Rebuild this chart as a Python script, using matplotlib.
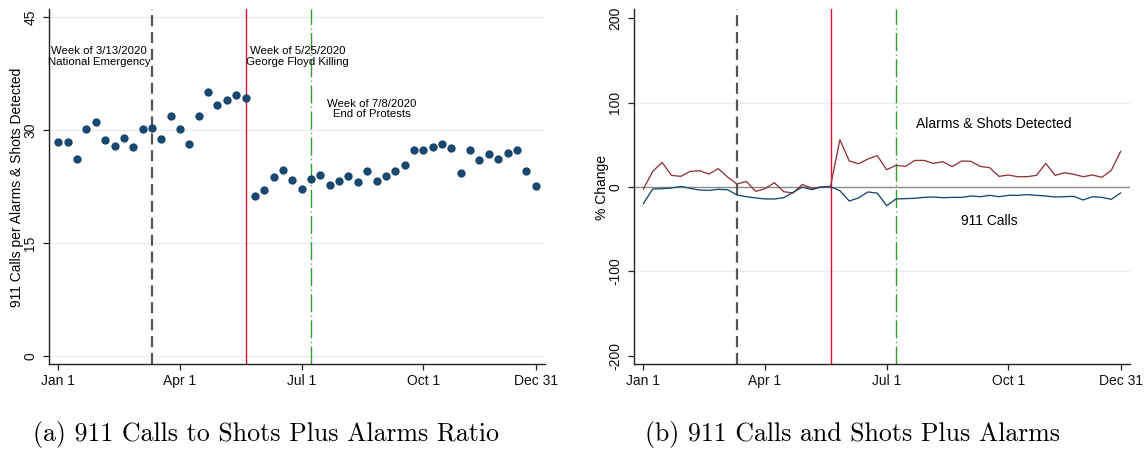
import numpy as np
import matplotlib
matplotlib.use("Agg")
import matplotlib.pyplot as plt

# ---------------- data ----------------
weeks = np.arange(1, 53)
tick_weeks = [1, 14, 27, 40, 52]
tick_labels = ["Jan 1", "Apr 1", "Jul 1", "Oct 1", "Dec 31"]

ratio = [28.45, 28.45, 26.2, 30.2, 31.1, 28.7, 27.9, 29.0, 27.8, 30.1,
         30.3, 28.8, 31.9, 30.1, 28.2, 31.9, 35.0, 33.3, 34.0, 34.6,
         34.3, 21.2, 22.0, 23.7, 24.7, 23.4, 22.2, 23.5, 24.0, 22.7,
         23.2, 23.9, 23.1, 24.6, 23.2, 23.9, 24.6, 25.4, 27.3, 27.4,
         27.7, 28.1, 27.6, 24.3, 27.3, 26.0, 26.8, 26.1, 26.9, 27.3,
         24.6, 22.6]

alarms = [-2.4, 18.5, 29.2, 13.8, 12.6, 18.5, 19.3, 15.4, 21.7, 11.8,
          3.5, 6.6, -5.2, -2.0, 5.1, -5.6, -7.1, 3.1, -1.7, 0.0,
          0.7, 56.0, 30.8, 27.6, 33.2, 37.1, 20.5, 25.6, 24.4, 31.5,
          31.5, 28.0, 30.0, 24.1, 30.8, 30.4, 24.4, 22.9, 12.6, 14.2,
          12.2, 12.2, 13.8, 28.0, 13.8, 16.9, 15.0, 12.2, 14.2, 11.5,
          19.7, 42.2]

calls = [-19.8, -2.4, -2.0, -1.2, 0.7, -1.6, -3.6, -4.0, -2.8, -3.2,
         -9.5, -11.5, -13.0, -14.2, -14.2, -12.7, -6.3, 0.0, -3.2, 0.0,
         0.3, -4.4, -16.6, -13.0, -5.9, -7.3, -22.2, -14.2, -13.8, -13.4,
         -12.3, -11.9, -12.7, -12.3, -12.3, -10.7, -11.5, -9.9, -11.5, -9.9,
         -9.9, -9.1, -9.9, -10.7, -11.9, -11.5, -11.1, -15.4, -11.5, -12.3,
         -14.6, -7.1]

event_weeks = [11, 21, 28]
left_yticks = [0, 15, 30, 45]
right_yticks = [-200, -100, 0, 100, 200]

# ---------------- style ----------------
plt.rcParams['font.family'] = ['Liberation Sans', 'DejaVu Sans']
NAVY = '#1a476f'
MAROON = '#90353b'
GRID = '#e6eef0'
AXC = '#222222'

fig = plt.figure(figsize=(11.46, 4.53), dpi=100)
W, H = 1146, 453

def make_ax(x0, x1, ytop, ybot):
    return fig.add_axes([x0 / W, 1 - ybot / H, (x1 - x0) / W, (ybot - ytop) / H])

axL = make_ax(49, 545, 9, 364.3)
axR = make_ax(634, 1130, 9, 364.3)

def style(ax, yticks, ylim, grid_vals):
    ax.set_xlim(0, 53)
    ax.set_ylim(*ylim)
    for s in ['top', 'right']:
        ax.spines[s].set_visible(False)
    for s in ['left', 'bottom']:
        ax.spines[s].set_color(AXC)
        ax.spines[s].set_linewidth(1.0)
    ax.set_xticks(tick_weeks)
    ax.set_xticklabels(tick_labels)
    ax.set_yticks(yticks)
    ax.set_yticklabels([str(v) for v in yticks])
    ax.tick_params(axis='both', labelsize=10, length=4.5, width=0.9,
                   color=AXC, labelcolor='#111111')
    ax.tick_params(axis='x', pad=2.5)
    ax.tick_params(axis='y', pad=4)
    for lab in ax.get_yticklabels():
        lab.set_rotation(90)
        lab.set_va('center')
    for g in grid_vals:
        ax.axhline(g, color=GRID, lw=0.9, zorder=0)

def events(ax):
    ax.axvline(event_weeks[0], color='#555555', lw=1.6, ls=(0, (5, 2.6)), zorder=1)
    ax.axvline(event_weeks[1], color='#e0102a', lw=1.0, zorder=1)
    ax.axvline(event_weeks[2], color='#2e9e2e', lw=1.0,
               ls=(0, (13, 2.5, 0.8, 2.5)), zorder=1)

# ---------------- left panel ----------------
style(axL, left_yticks, (-1.15, 46.1), [0, 15, 30, 45])
events(axL)
axL.scatter(weeks, ratio, s=36, color=NAVY, zorder=3, linewidths=0)
axL.text(event_weeks[0] - 0.15, 39.8, "Week of 3/13/2020\nNational Emergency",
         ha='right', va='center', ma='center', fontsize=8.2, linespacing=1.05)
axL.text(event_weeks[1] + 0.08, 39.8, "Week of 5/25/2020\nGeorge Floyd Killing",
         ha='left', va='center', ma='center', fontsize=8.2, linespacing=1.05)
axL.text(34.5, 32.8, "Week of 7/8/2020\nEnd of Protests",
         ha='center', va='center', ma='center', fontsize=8.2, linespacing=1.05)
fig.text(16.7 / W, 1 - 187 / H, "911 Calls per Alarms & Shots Detected",
         rotation=90, ha='center', va='center', fontsize=10)

# ---------------- right panel ----------------
style(axR, right_yticks, (-210.2, 211), [-100, 100])
axR.axhline(0, color='#8c8c8c', lw=1.0, zorder=1)
events(axR)
axR.plot(weeks, alarms, color=MAROON, lw=0.95, zorder=3)
axR.plot(weeks, calls, color=NAVY, lw=0.95, zorder=3)
axR.text(38.47, 75, "Alarms & Shots Detected", ha='center', va='center', fontsize=10)
axR.text(38.0, -40, "911 Calls", ha='center', va='center', fontsize=10)
fig.text(601.7 / W, 1 - 187 / H, "% Change",
         rotation=90, ha='center', va='center', fontsize=10)

# ---------------- captions ----------------
fig.text(33.3 / W, 1 - 441 / H, "(a) 911 Calls to Shots Plus Alarms Ratio",
         family='cmr10', fontsize=18.6, ha='left', va='baseline')
fig.text(645 / W, 1 - 441 / H, "(b) 911 Calls and Shots Plus Alarms",
         family='cmr10', fontsize=18.6, ha='left', va='baseline')

fig.savefig("out.png", dpi=100, facecolor='white')
